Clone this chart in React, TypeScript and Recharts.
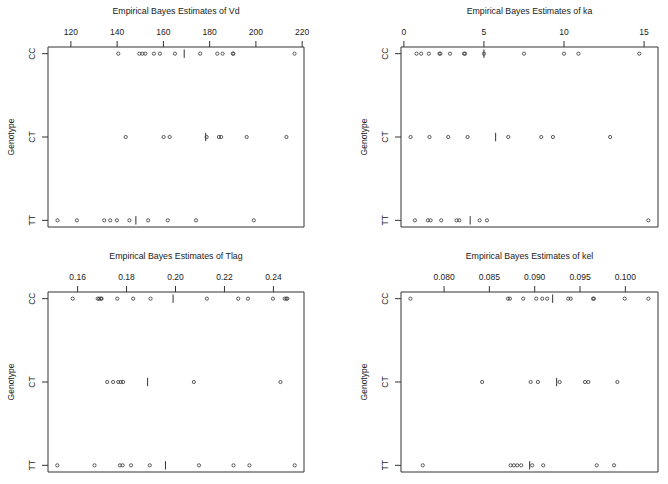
import React from 'react';
import { ScatterChart, Scatter, XAxis, YAxis, ReferenceArea } from 'recharts';

const genotypes = ['CC', 'CT', 'TT'];
const genotypeCodes = [1, 2, 3];

const vdCC = [140.5, 149.6, 150.9, 152.2, 155.9, 158.5, 165.0, 175.9, 183.3, 185.6, 190.0, 190.3, 216.7];
const vdCT = [143.7, 160.1, 162.7, 178.7, 184.0, 185.0, 196.0, 213.2];
const vdTT = [114.2, 122.6, 134.4, 137.0, 139.9, 145.3, 153.4, 161.9, 174.1, 199.1];
const vdMeans = [169.0, 178.3, 148.1];
const vdTicks = [120, 140, 160, 180, 200, 220];

const kaCC = [0.79, 1.08, 1.56, 2.22, 2.28, 2.88, 3.76, 3.82, 5.0, 7.5, 10.0, 10.9, 14.7];
const kaCT = [0.42, 1.6, 2.77, 3.98, 6.52, 8.58, 9.31, 12.88];
const kaTT = [0.69, 1.5, 1.67, 2.33, 3.29, 3.46, 4.73, 5.19, 15.27];
const kaMeans = [5.0, 5.73, 4.14];
const kaTicks = [0, 5, 10, 15];

const tlagCC = [0.158, 0.1682, 0.1688, 0.1695, 0.1698, 0.1762, 0.1827, 0.1898, 0.2128, 0.2256, 0.2296, 0.2398, 0.2446, 0.2453, 0.2457];
const tlagCT = [0.1721, 0.1745, 0.1766, 0.1776, 0.1786, 0.2075, 0.2429];
const tlagTT = [0.1517, 0.1669, 0.1773, 0.1784, 0.1818, 0.1895, 0.2096, 0.2237, 0.2302, 0.2487];
const tlagMeans = [0.199, 0.1886, 0.1959];
const tlagTicks = [0.16, 0.18, 0.2, 0.22, 0.24];

const kelCC = [0.07629, 0.08704, 0.08726, 0.08873, 0.09017, 0.09083, 0.09138, 0.0937, 0.09397, 0.09643, 0.09654, 0.09993, 0.10254];
const kelCT = [0.0842, 0.08955, 0.09035, 0.09275, 0.09555, 0.09591, 0.09912];
const kelTT = [0.07765, 0.08734, 0.0877, 0.08807, 0.08851, 0.08972, 0.09094, 0.09684, 0.09875];
const kelMeans = [0.09198, 0.09242, 0.08944];
const kelTicks = [0.08, 0.085, 0.09, 0.095, 0.1];

const FONT = '"Liberation Sans", Arial, Helvetica, sans-serif';
const INK = '#333333';
const Y_DOMAIN: [number, number] = [0.92, 3.08];

const toPts = (vals: number[], g: number) => vals.map((v) => ({ x: v, y: g }));

const Circle = (p: any) => (
  <circle cx={p.cx} cy={p.cy} r={1.6} fill="none" stroke={INK} strokeWidth={0.8} />
);
const MeanMark = (p: any) => (
  <line x1={p.cx} x2={p.cx} y1={p.cy - 4.2} y2={p.cy + 4.2} stroke={INK} strokeWidth={1} />
);

type PanelProps = {
  title: string;
  cc: number[];
  ct: number[];
  tt: number[];
  means: number[];
  ticks: number[];
  domain: [number, number];
  fmt: (v: number) => string;
  left: number;
  top: number;
  plotLeft: number;
  plotRight: number;
  plotTop: number;
  plotBottom: number;
};

function Panel(props: PanelProps) {
  const { title, cc, ct, tt, means, ticks, domain, fmt, left, top, plotLeft, plotRight, plotTop, plotBottom } = props;
  const W = 334;
  const H = 242;
  const meanPts = means.map((m, i) => ({ x: m, y: genotypeCodes[i] }));
  const titleLabel = () => (
    <text x={(plotLeft + plotRight) / 2} y={plotTop - 33.5} textAnchor="middle" fontSize={8.8} fontFamily={FONT} fill="#222">
      {title}
    </text>
  );
  const yLabel = () => (
    <text
      transform={`translate(${plotLeft - 34.5},${(plotTop + plotBottom) / 2}) rotate(-90)`}
      textAnchor="middle"
      fontSize={8.5}
      fontFamily={FONT}
      fill="#222"
    >
      Genotype
    </text>
  );
  const yTick = (p: any) => (
    <text
      transform={`translate(${p.x},${p.y}) rotate(-90)`}
      textAnchor="middle"
      fontSize={8.5}
      fontFamily={FONT}
      fill="#222"
    >
      {genotypes[genotypeCodes.indexOf(p.payload.value)]}
    </text>
  );
  return (
    <div style={{ position: 'absolute', left, top, width: W, height: H }}>
      <ScatterChart
        width={W}
        height={H}
        margin={{ top: 0, left: 0, right: W - plotRight, bottom: H - plotBottom }}
      >
        <XAxis
          type="number"
          dataKey="x"
          orientation="top"
          domain={domain}
          allowDataOverflow
          ticks={ticks}
          tickFormatter={fmt}
          height={plotTop}
          axisLine={false}
          stroke={INK}
          tickSize={6}
          tickMargin={6}
          tick={{ fontSize: 8.5, fill: '#222', fontFamily: FONT }}
          label={titleLabel}
          interval={0}
        />
        <YAxis
          type="number"
          dataKey="y"
          domain={Y_DOMAIN}
          allowDataOverflow
          reversed
          ticks={genotypeCodes}
          width={plotLeft}
          axisLine={false}
          stroke={INK}
          tickSize={6}
          tickMargin={7.5}
          tick={yTick}
          label={yLabel}
          interval={0}
        />
        <ReferenceArea
          x1={domain[0]}
          x2={domain[1]}
          y1={Y_DOMAIN[0]}
          y2={Y_DOMAIN[1]}
          fill="none"
          fillOpacity={0}
          stroke={INK}
          strokeWidth={1}
          ifOverflow="visible"
        />
        <Scatter data={toPts(cc, 1)} shape={Circle} isAnimationActive={false} />
        <Scatter data={toPts(ct, 2)} shape={Circle} isAnimationActive={false} />
        <Scatter data={toPts(tt, 3)} shape={Circle} isAnimationActive={false} />
        <Scatter data={meanPts} shape={MeanMark} isAnimationActive={false} />
      </ScatterChart>
    </div>
  );
}

export default function App() {
  return (
    <div style={{ position: 'absolute', left: 0, top: 0, width: 668, height: 484, background: '#fff' }}>
      <Panel
        title="Empirical Bayes Estimates of Vd"
        cc={vdCC}
        ct={vdCT}
        tt={vdTT}
        means={vdMeans}
        ticks={vdTicks}
        domain={[110.1, 220.8]}
        fmt={(v) => String(v)}
        left={0}
        top={0}
        plotLeft={48}
        plotRight={304}
        plotTop={47}
        plotBottom={227}
      />
      <Panel
        title="Empirical Bayes Estimates of ka"
        cc={kaCC}
        ct={kaCT}
        tt={kaTT}
        means={kaMeans}
        ticks={kaTicks}
        domain={[-0.18, 15.87]}
        fmt={(v) => String(v)}
        left={334}
        top={0}
        plotLeft={67}
        plotRight={324}
        plotTop={47}
        plotBottom={227}
      />
      <Panel
        title="Empirical Bayes Estimates of Tlag"
        cc={tlagCC}
        ct={tlagCT}
        tt={tlagTT}
        means={tlagMeans}
        ticks={tlagTicks}
        domain={[0.1479, 0.2525]}
        fmt={(v) => v.toFixed(2)}
        left={0}
        top={242}
        plotLeft={48}
        plotRight={304}
        plotTop={50}
        plotBottom={230}
      />
      <Panel
        title="Empirical Bayes Estimates of kel"
        cc={kelCC}
        ct={kelCT}
        tt={kelTT}
        means={kelMeans}
        ticks={kelTicks}
        domain={[0.07525, 0.1036]}
        fmt={(v) => v.toFixed(3)}
        left={334}
        top={242}
        plotLeft={67}
        plotRight={324}
        plotTop={50}
        plotBottom={230}
      />
    </div>
  );
}
